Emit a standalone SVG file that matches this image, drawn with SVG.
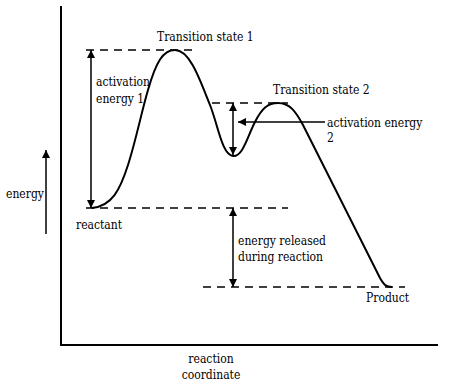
<svg xmlns="http://www.w3.org/2000/svg" width="450" height="384" viewBox="0 0 450 384">
<style>
.t{font-family:'DejaVu Serif Condensed','DejaVu Serif',serif;font-stretch:condensed;font-size:12px;fill:#000}
.ax{stroke:#000;stroke-width:2;fill:none}
.dash{stroke:#000;stroke-width:1.5;stroke-dasharray:8,6;fill:none}
.arr{stroke:#000;stroke-width:1.5;fill:none}
.curve{stroke:#000;stroke-width:2;fill:none}
</style>
<defs>
<marker id="ah" viewBox="0 0 10 10" refX="10" refY="5" markerWidth="8" markerHeight="8" markerUnits="userSpaceOnUse" orient="auto-start-reverse">
<path d="M0,0 L10,5 L0,10 Z" fill="#000"/>
</marker>
</defs>
<rect width="450" height="384" fill="#fff"/>
<g id="axes">
<path class="ax" d="M61,6 V345 H438"/>
</g>
<g id="energy-axis">
<line class="arr" x1="46" y1="234" x2="46" y2="150" marker-end="url(#ah)"/>
<text class="t" x="6" y="198">energy</text>
</g>
<g id="curve">
<path class="curve" d="M92,208 C112,206 120,190 128,165 C136,140 142,110 148,90 C156,62 163,50 175,50 C190,50 200,80 210,105 C218,125 222,155 233,156 C243,157 248,135 255,122 C262,108 268,103 278,103 C290,103 296,112 303,125 L380,278 C384,285 386,287 392,287"/>
</g>
<g id="guides">
<line class="dash" x1="86" y1="50" x2="197" y2="50"/>
<line class="dash" x1="212" y1="103" x2="288" y2="103"/>
<line class="dash" x1="86" y1="208" x2="288" y2="208"/>
<line class="dash" x1="203" y1="287" x2="405" y2="287"/>
</g>
<g id="connectors">
<line class="arr" x1="91" y1="50" x2="91" y2="208" marker-start="url(#ah)" marker-end="url(#ah)"/>
<line class="arr" x1="233" y1="103" x2="233" y2="155" marker-start="url(#ah)" marker-end="url(#ah)"/>
<line class="arr" x1="325" y1="122" x2="238" y2="122" marker-end="url(#ah)"/>
<line class="arr" x1="233" y1="208" x2="233" y2="287" marker-start="url(#ah)" marker-end="url(#ah)"/>
</g>
<g id="ts1"><text class="t" x="157" y="41">Transition state 1</text></g>
<g id="ts2"><text class="t" x="273" y="94">Transition state 2</text></g>
<g id="ae1"><text class="t" x="96" y="86">activation</text><text class="t" x="96" y="103">energy 1</text></g>
<g id="ae2"><text class="t" x="327" y="127">activation energy</text><text class="t" x="327" y="142">2</text></g>
<g id="reactant"><text class="t" x="76" y="229">reactant</text></g>
<g id="released"><text class="t" x="238" y="245">energy released</text><text class="t" x="238" y="261">during reaction</text></g>
<g id="product"><text class="t" x="366" y="302">Product</text></g>
<g id="xlabel"><text class="t" x="211" y="363" text-anchor="middle">reaction</text><text class="t" x="211" y="379" text-anchor="middle">coordinate</text></g>
</svg>
